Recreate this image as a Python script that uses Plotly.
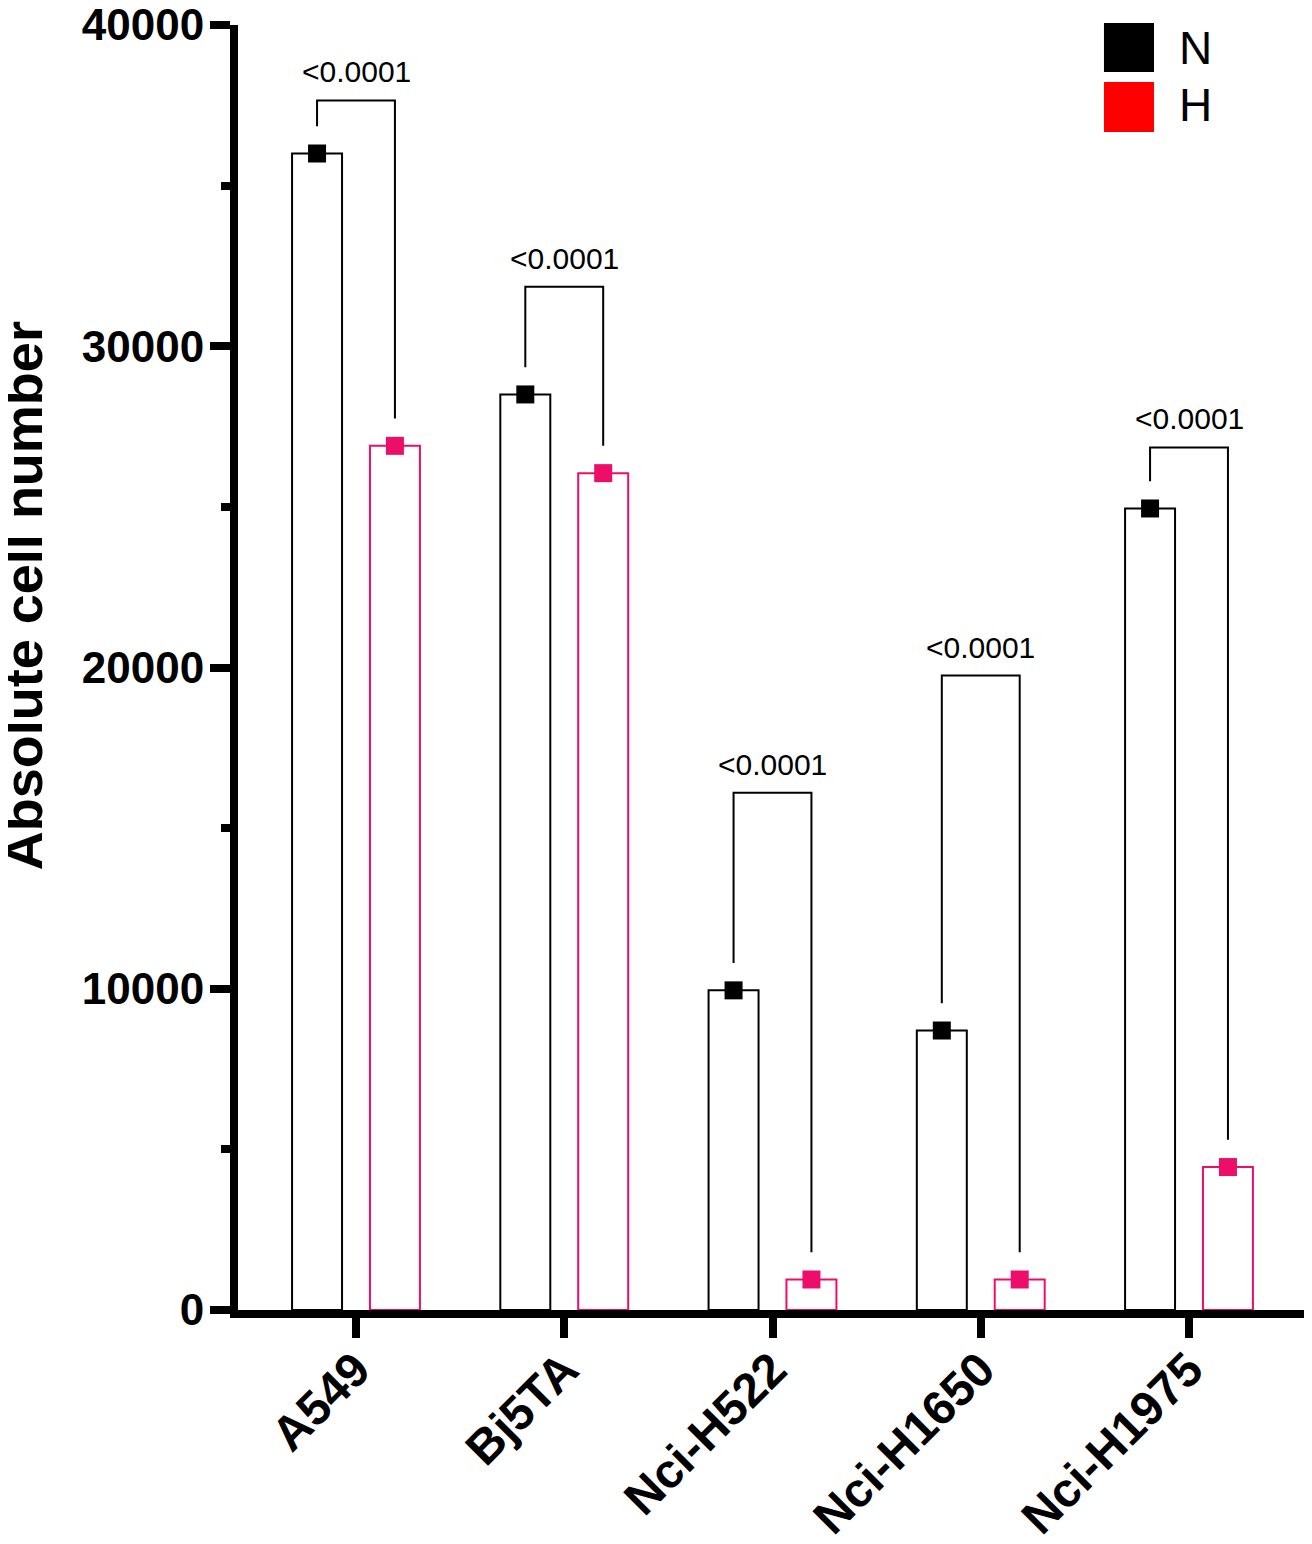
import plotly.graph_objects as go

# values
cells = ["A549", "Bj5TA", "Nci-H522", "Nci-H1650", "Nci-H1975"]
n_vals = [36000, 28500, 9950, 8700, 24950]
h_vals = [26900, 26050, 950, 950, 4450]
bracket_tops = [37650, 31850, 16100, 19750, 26850]
p_labels = ["<0.0001", "<0.0001", "<0.0001", "<0.0001", "<0.0001"]
y_ticks = [0, 10000, 20000, 30000, 40000]

PINK = "#EC0E68"
FONT = "Liberation Sans, Arial, sans-serif"
off = 0.187
bw = 0.24
gap = 850

idx = list(range(len(cells)))
xn = [i - off for i in idx]
xh = [i + off for i in idx]

fig = go.Figure()

fig.add_trace(go.Bar(x=xn, y=n_vals, width=bw, marker=dict(color="white", line=dict(color="black", width=2)),
                     showlegend=False))
fig.add_trace(go.Bar(x=xh, y=h_vals, width=bw, marker=dict(color="white", line=dict(color=PINK, width=2)),
                     showlegend=False))

# significance brackets
bx, by = [], []
for i in idx:
    bx += [xn[i], xn[i], xh[i], xh[i], None]
    by += [n_vals[i] + gap, bracket_tops[i], bracket_tops[i], h_vals[i] + gap, None]
fig.add_trace(go.Scatter(x=bx, y=by, mode="lines", line=dict(color="black", width=2),
                         showlegend=False, hoverinfo="skip"))

fig.add_trace(go.Scatter(x=xn, y=n_vals, mode="markers", cliponaxis=False,
                         marker=dict(symbol="square", size=18, color="black"), showlegend=False))
fig.add_trace(go.Scatter(x=xh, y=h_vals, mode="markers", cliponaxis=False,
                         marker=dict(symbol="square", size=18, color=PINK), showlegend=False))

for i in idx:
    fig.add_annotation(x=i, y=bracket_tops[i], text=p_labels[i], showarrow=False,
                       yanchor="bottom", yshift=10, font=dict(family=FONT, size=30, color="black"))

# y title
fig.add_annotation(xref="paper", yref="paper", x=-0.2005, y=0.556, text="<b>Absolute cell number</b>",
                   xanchor="center", yanchor="middle",
                   textangle=-90, showarrow=False, font=dict(family=FONT, size=54, color="black"))

# legend drawn by hand
fig.add_shape(type="rect", xref="paper", yref="paper", x0=0.8063, x1=0.8529, y0=0.9634, y1=1.0016,
              fillcolor="black", line=dict(width=0))
fig.add_shape(type="rect", xref="paper", yref="paper", x0=0.8063, x1=0.8529, y0=0.9167, y1=0.9556,
              fillcolor="red", line=dict(width=0))
fig.add_annotation(xref="paper", yref="paper", x=0.874, y=0.982, text="N", showarrow=False,
                   xanchor="left", yanchor="middle", font=dict(family=FONT, size=46, color="black"))
fig.add_annotation(xref="paper", yref="paper", x=0.874, y=0.938, text="H", showarrow=False,
                   xanchor="left", yanchor="middle", font=dict(family=FONT, size=46, color="black"))

# page body has an 8px margin, so the figure is 8px smaller each way
fig.update_layout(
    width=1304, height=1536,
    margin=dict(l=230, r=0, t=17, b=234, autoexpand=False),
    plot_bgcolor="white", paper_bgcolor="white",
    barmode="overlay",
    font=dict(family=FONT, color="black"),
)
fig.update_xaxes(
    range=[-0.5666, 4.5906], tickvals=idx, ticktext=cells, tickangle=-45,
    showline=True, linewidth=8, linecolor="black", showgrid=False, zeroline=False,
    ticks="outside", ticklen=20, tickwidth=8, tickcolor="black", automargin=False,
    ticklabelstandoff=-16, ticklabeloverflow="allow",
    tickfont=dict(family=FONT, size=48, weight="bold"),
)
fig.update_yaxes(
    range=[0, 40000], tickvals=y_ticks, ticktext=[str(v) for v in y_ticks],
    showline=True, linewidth=8, linecolor="black", showgrid=False, zeroline=False,
    ticks="outside", ticklen=20, tickwidth=8, tickcolor="black", automargin=False,
    ticklabelstandoff=-3, ticklabeloverflow="allow",
    tickfont=dict(family=FONT, size=44, weight="bold"),
    minor=dict(dtick=5000, ticks="outside", ticklen=9, tickwidth=8, tickcolor="black", showgrid=False),
)

fig.write_html("out.html")
